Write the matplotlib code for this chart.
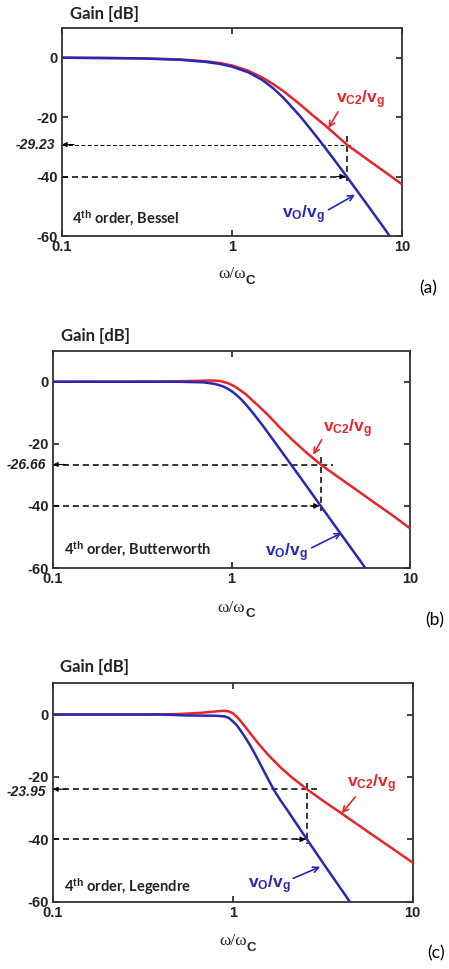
import matplotlib.pyplot as plt

plt.rcParams['font.family'] = ['Liberation Sans', 'DejaVu Sans']
plt.rcParams['mathtext.fontset'] = 'custom'
plt.rcParams['mathtext.rm'] = 'Liberation Sans'
plt.rcParams['mathtext.it'] = 'Liberation Sans:italic'
plt.rcParams['mathtext.bf'] = 'Liberation Sans:bold'

RED = '#e8252b'
BLUE = '#2828b4'
TXT = '#222222'

# (a) 4th order Bessel
bessel_w_out = [0.1, 0.2, 0.3, 0.5, 0.7, 0.85, 1.0, 1.25, 1.5, 1.75, 2.0, 2.5, 3.0, 3.5, 4.0, 4.73, 6.0, 8.0, 8.45]
bessel_db_out = [0, -0.12, -0.27, -0.71, -1.41, -2.1, -3.0, -4.94, -7.42, -10.3, -13.4, -19.5, -25.1, -30.0, -34.4, -40.0, -48.1, -58.0, -60.0]
bessel_w_c2 = [0.1, 0.3, 0.5, 0.7, 0.85, 1.0, 1.25, 1.5, 1.75, 2.0, 2.5, 3.0, 3.5, 4.0, 4.73, 6.0, 8.0, 10.0]
bessel_db_c2 = [0, -0.2, -0.6, -1.2, -1.8, -2.6, -4.4, -6.6, -8.9, -11.2, -15.6, -19.5, -22.6, -25.5, -29.23, -33.5, -38.6, -42.6]

# (b) 4th order Butterworth
butter_w_out = [0.1, 0.5, 0.7, 0.8, 0.85, 0.9, 0.95, 1.0, 1.05, 1.1, 1.15, 1.2, 1.25, 1.35, 1.4, 1.5, 1.6, 1.8, 2.0, 2.5, 3.16, 4.0, 5.0, 5.62]
butter_db_out = [0, 0, -0.2, -0.67, -1.05, -1.55, -2.21, -3.0, -3.94, -4.97, -6.08, -7.24, -8.43, -10.8, -11.98, -14.2, -16.43, -20.46, -24.1, -31.8, -40.0, -48.2, -55.9, -60.0]
butter_w_c2 = [0.1, 0.4, 0.6, 0.75, 0.85, 0.95, 1.05, 1.2, 1.4, 1.6, 1.87, 2.2, 2.6, 3.16, 4.0, 5.0, 6.3, 8.0, 10.0]
butter_db_c2 = [0, 0.05, 0.25, 0.4, 0.3, -0.4, -1.6, -4.0, -7.5, -10.7, -14.8, -18.8, -22.6, -26.66, -30.9, -34.8, -38.9, -43.1, -47.2]

# (c) 4th order Legendre
legendre_w_out = [0.1, 0.4, 0.55, 0.8, 0.9, 0.95, 1.0, 1.05, 1.1, 1.17, 1.24, 1.32, 1.4, 1.5, 1.6, 1.7, 1.85, 2.0, 2.58, 3.2, 4.47]
legendre_db_out = [0, 0, -0.3, -0.4, -0.6, -1.1, -2.2, -3.4, -5.0, -7.3, -9.6, -12.4, -15.2, -18.5, -21.6, -24.4, -27.7, -30.5, -40.0, -47.9, -60.0]
legendre_w_c2 = [0.1, 0.35, 0.5, 0.65, 0.78, 0.88, 0.95, 1.0, 1.05, 1.1, 1.17, 1.24, 1.32, 1.4, 1.5, 1.6, 1.83, 2.1, 2.58, 3.2, 4.0, 5.0, 6.3, 8.0, 10.0]
legendre_db_c2 = [0, 0, 0.15, 0.5, 0.9, 1.2, 1.0, 0.4, -0.7, -2.0, -3.9, -5.8, -7.8, -9.6, -11.6, -13.4, -16.8, -19.9, -23.95, -27.8, -31.6, -35.5, -39.5, -43.6, -47.5]

panels = [
    dict(rect=[62, 28, 402, 236], name='Bessel', tag='(a)', tag_xy=(428, 288), gain_xy=(70, 14),
         w_out=bessel_w_out, db_out=bessel_db_out, w_c2=bessel_w_c2, db_c2=bessel_db_c2,
         w_mark=4.73, db_mark=-29.23, mark_end=5.13, vert_top=-26.5, thin_upper=True, label_shift=0,
         c2_label=(5.74, -14.2), c2_arrow=((4.2, -18.2), (3.69, -23.7)),
         out_label=(2.65, -52.9), out_arrow=((3.69, -51.2), (5.3, -46.1)), name_y=-54.2),
    dict(rect=[53, 350.7, 410, 568], name='Butterworth', tag='(b)', tag_xy=(435, 620), gain_xy=(61, 336),
         w_out=butter_w_out, db_out=butter_db_out, w_c2=butter_w_c2, db_c2=butter_db_c2,
         w_mark=3.16, db_mark=-26.66, mark_end=3.72, vert_top=-24.1, thin_upper=False, label_shift=0,
         c2_label=(4.47, -15.0), c2_arrow=((3.2, -18.7), (2.87, -23.5)),
         out_label=(2.04, -55.1), out_arrow=((2.81, -53.5), (4.14, -48.7)), name_y=-54.0),
    dict(rect=[53, 683.3, 412.7, 901.7], name='Legendre', tag='(c)', tag_xy=(436, 953), gain_xy=(60, 667),
         w_out=legendre_w_out, db_out=legendre_db_out, w_c2=legendre_w_c2, db_c2=legendre_db_c2,
         w_mark=2.58, db_mark=-23.95, mark_end=2.93, vert_top=-22.1, thin_upper=False, label_shift=-0.9,
         c2_label=(5.93, -22.1), c2_arrow=((4.79, -26.4), (4.03, -31.7)),
         out_label=(1.59, -54.6), out_arrow=((2.17, -52.5), (3.06, -48.8)), name_y=-55.2),
]

W, H = 449, 969
fig = plt.figure(figsize=(W / 100, H / 100), dpi=100)

for p in panels:
    x0, y0, x1, y1 = p['rect']
    ax = fig.add_axes([x0 / W, 1 - y1 / H, (x1 - x0) / W, (y1 - y0) / H])
    ax.set_xscale('log')
    ax.set_xlim(0.1, 10)
    ax.set_ylim(-60, 10)
    ax.set_xticks([0.1, 1, 10])
    ax.set_xticklabels(['0.1', '1', '10'])
    ax.set_yticks([0, -20, -40, -60])
    ax.set_yticklabels(['0', '-20', '-40', '-60'])
    ax.minorticks_off()
    ax.tick_params(direction='in', top=True, right=True, length=4, width=1.2,
                   labelsize=10.5, colors=TXT, pad=3)
    for lab in ax.get_xticklabels() + ax.get_yticklabels():
        lab.set_fontweight('bold')
    for sp in ax.spines.values():
        sp.set_linewidth(1.3)
        sp.set_color('#333333')

    ax.plot(p['w_c2'], p['db_c2'], color=RED, lw=1.8, zorder=3)
    ax.plot(p['w_out'], p['db_out'], color=BLUE, lw=1.8, zorder=3)

    # dashed guide lines to the -40 dB point and the matching vC2 gain
    wm, dbm = p['w_mark'], p['db_mark']
    up_lw = 0.7 if p['thin_upper'] else 1.1
    ax.plot([0.1, p['mark_end']], [dbm, dbm], color='black', lw=up_lw, dashes=(4, 2.5), zorder=2)
    ax.plot([0.1, wm], [-40, -40], color='black', lw=1.1, dashes=(4, 2.5), zorder=2)
    ax.plot([wm, wm], [p['vert_top'], -41.5], color='black', lw=1.1, dashes=(4, 2.5), zorder=2)
    ax.annotate('', xy=(0.1, dbm), xytext=(0.118, dbm),
                arrowprops=dict(arrowstyle='-|>', color='black', lw=0.8,
                                mutation_scale=7, shrinkA=0, shrinkB=0))
    ax.annotate('', xy=(wm * 0.985, -40), xytext=(wm * 0.87, -40),
                arrowprops=dict(arrowstyle='-|>', color='black', lw=0.8,
                                mutation_scale=8, shrinkA=0, shrinkB=0))
    ax.text(-0.02, dbm + p['label_shift'], f'{dbm:.2f}', transform=ax.get_yaxis_transform(),
            ha='right', va='center', fontsize=10, style='italic', fontweight='bold', color=TXT)

    ax.text(0.115, p['name_y'], r'4$^{\mathbf{th}}$ order, ' + p['name'],
            fontfamily='Lato', fontweight='bold', fontsize=10.5, color=TXT, va='center')

    ax.text(*p['c2_label'], r'$\mathbf{v_{C2}/v_{g}}$', color=RED, fontsize=12.5,
            ha='center', va='center')
    ax.annotate('', xy=p['c2_arrow'][1], xytext=p['c2_arrow'][0],
                arrowprops=dict(arrowstyle='->', color=RED, lw=1.2, shrinkA=0, shrinkB=0))
    ax.text(*p['out_label'], r'$\mathbf{v_{O}/v_{g}}$', color=BLUE, fontsize=12.5,
            ha='center', va='center')
    ax.annotate('', xy=p['out_arrow'][1], xytext=p['out_arrow'][0],
                arrowprops=dict(arrowstyle='->', color=BLUE, lw=1.2, shrinkA=0, shrinkB=0))

    # x axis label: serif omega with a bold sans subscript C
    xl = ax.annotate('ω/ω', xy=(0.5, -0.145), xycoords='axes fraction', ha='center', va='top',
                     fontfamily='Liberation Serif', fontsize=12.5, color=TXT)
    ax.annotate('C', xy=(1.0, 0.1), xycoords=xl, ha='left', va='center',
                fontsize=9.5, fontweight='bold', color=TXT)

    gx, gy = p['gain_xy']
    fig.text(gx / W, 1 - gy / H, 'Gain [dB]', fontfamily='Lato', fontweight='bold',
             fontsize=12, color=TXT, ha='left', va='center')
    tx, ty = p['tag_xy']
    fig.text(tx / W, 1 - ty / H, p['tag'], fontfamily='Lato', fontsize=12.5,
             color='black', ha='center', va='center')

fig.savefig('out.png', dpi=100)
